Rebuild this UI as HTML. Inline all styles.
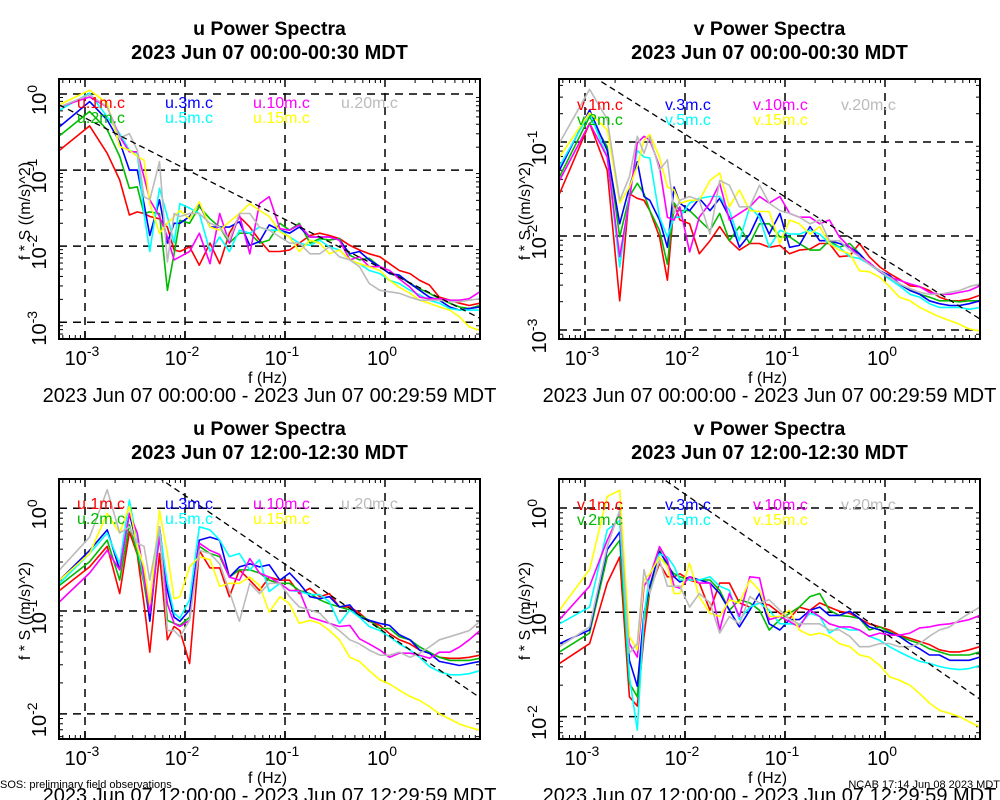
<!DOCTYPE html>
<html><head><meta charset="utf-8">
<style>
html,body{margin:0;padding:0;background:#fff;}
svg{display:block;font-family:"Liberation Sans",Arial,sans-serif;}
</style></head>
<body>
<svg id="chart" width="1000" height="800" viewBox="0 0 1000 800" xmlns="http://www.w3.org/2000/svg">
<rect width="1000" height="800" fill="#fff"/>
<text x="0" y="788" font-size="11">SOS: preliminary field observations</text>
<text x="1000" y="788" font-size="11" text-anchor="end">NCAB 17:14 Jun 08 2023 MDT</text>
</svg>
<script>
// frequency bins: multiples of 1/1800 Hz
const binK = [1,2,3,4,5,6,7,8,10,12,14,16,20,25,32,40,50,63,80,100,125,160,200,250,320,400,500,630,800,1000,1250,1600,2000,2500,3200,4000,5000,6300,8000,10000,12500,16000];
const seriesColors = ['#ff0000','#00bb00','#0000ff','#00ffff','#ff00ff','#ffff00','#bbbbbb'];
const heightsLabel = ['1m','2m','3m','5m','10m','15m','20m'];

// log10(f*S) per series, panel u 00:00
const uNight = [
[-0.74,-0.42,-0.78,-1.13,-1.59,-1.55,-1.57,-1.61,-1.64,-1.75,-2.05,-2.07,-2.01,-2.25,-1.96,-2.23,-1.83,-1.61,-1.75,-1.92,-2.07,-2.07,-2.05,-1.96,-1.86,-1.83,-1.86,-1.90,-1.99,-2.05,-2.10,-2.14,-2.23,-2.32,-2.36,-2.45,-2.51,-2.67,-2.71,-2.75,-2.78,-2.75],
[-0.55,-0.23,-0.47,-0.82,-1.24,-1.22,-1.57,-1.55,-1.57,-2.58,-2.10,-1.66,-1.70,-1.48,-1.64,-1.75,-1.96,-1.83,-1.83,-1.96,-1.92,-1.70,-1.79,-1.70,-1.96,-1.90,-1.92,-1.90,-2.12,-2.18,-2.16,-2.27,-2.36,-2.40,-2.49,-2.56,-2.62,-2.69,-2.75,-2.80,-2.82,-2.78],
[-0.43,-0.10,-0.34,-0.63,-1.00,-1.00,-1.44,-1.86,-1.39,-1.96,-1.70,-1.70,-1.61,-1.44,-1.75,-1.75,-1.75,-1.68,-1.99,-1.94,-1.72,-1.79,-1.83,-1.75,-1.88,-1.88,-1.88,-1.92,-2.10,-2.07,-2.18,-2.27,-2.36,-2.38,-2.49,-2.58,-2.67,-2.71,-2.80,-2.84,-2.82,-2.80],
[-0.21,0.01,-0.30,-0.52,-0.74,-0.78,-1.57,-2.07,-1.24,-1.61,-1.96,-1.44,-1.50,-1.57,-2.07,-1.88,-2.07,-1.79,-1.83,-1.75,-1.79,-1.79,-1.88,-1.96,-1.99,-1.92,-2.01,-2.05,-2.18,-2.23,-2.32,-2.36,-2.45,-2.49,-2.58,-2.64,-2.71,-2.75,-2.82,-2.84,-2.84,-2.84],
[-0.17,-0.04,-0.17,-0.56,-0.76,-0.76,-1.09,-1.39,-1.61,-1.88,-2.18,-2.14,-2.07,-1.83,-2.23,-1.57,-1.96,-1.59,-2.10,-1.44,-1.35,-1.77,-1.79,-1.72,-1.88,-1.88,-1.88,-1.92,-2.18,-2.14,-2.27,-2.27,-2.32,-2.43,-2.54,-2.67,-2.69,-2.69,-2.71,-2.71,-2.69,-2.60],
[-0.14,0.05,-0.12,-0.69,-0.74,-0.82,-0.87,-1.44,-1.83,-1.70,-1.61,-1.53,-1.64,-1.42,-1.75,-1.79,-1.68,-1.57,-1.44,-1.53,-1.61,-1.81,-1.88,-2.07,-1.92,-1.96,-2.10,-2.05,-2.18,-2.23,-2.27,-2.32,-2.45,-2.54,-2.62,-2.71,-2.75,-2.80,-2.84,-2.93,-3.06,-3.11],
[-0.17,-0.01,-0.17,-0.58,-0.52,-0.74,-1.35,-1.39,-0.89,-2.21,-1.57,-1.61,-1.57,-1.57,-1.70,-1.75,-1.92,-1.57,-1.57,-1.75,-1.79,-1.88,-1.96,-1.96,-2.10,-2.10,-2.01,-2.14,-2.18,-2.27,-2.49,-2.58,-2.60,-2.62,-2.67,-2.71,-2.71,-2.71,-2.73,-2.73,-2.71,-2.69]];

const vNight = [
[-1.55,-0.80,-1.30,-2.69,-1.55,-1.60,-1.62,-1.73,-2.01,-2.47,-1.65,-1.83,-1.87,-2.19,-2.05,-1.90,-2.05,-2.15,-2.08,-2.08,-2.12,-2.10,-2.19,-2.15,-2.14,-2.08,-2.08,-2.22,-2.21,-2.08,-2.22,-2.33,-2.40,-2.46,-2.53,-2.54,-2.58,-2.65,-2.69,-2.69,-2.67,-2.63],
[-1.37,-0.73,-1.05,-2.01,-1.58,-1.44,-1.55,-1.73,-1.94,-2.30,-1.65,-1.73,-1.73,-1.83,-1.94,-1.76,-2.05,-1.90,-2.08,-1.87,-1.87,-2.01,-2.01,-2.08,-2.15,-2.15,-2.05,-2.12,-2.08,-2.19,-2.30,-2.37,-2.44,-2.51,-2.58,-2.62,-2.65,-2.69,-2.69,-2.70,-2.69,-2.69],
[-1.30,-0.66,-1.09,-1.87,-1.48,-1.21,-1.58,-1.62,-1.83,-2.12,-1.48,-1.65,-1.73,-1.60,-1.73,-1.60,-1.80,-2.12,-1.98,-1.76,-1.98,-1.76,-2.12,-2.10,-1.90,-2.05,-2.05,-2.08,-2.12,-2.19,-2.30,-2.37,-2.42,-2.51,-2.58,-2.62,-2.69,-2.72,-2.74,-2.74,-2.72,-2.69],
[-1.26,-0.69,-1.16,-2.33,-1.58,-1.09,-1.16,-1.17,-1.80,-2.01,-1.80,-1.80,-1.65,-1.60,-1.58,-1.58,-1.73,-2.05,-1.69,-1.80,-2.12,-1.94,-1.98,-1.98,-1.94,-1.98,-2.08,-2.12,-2.22,-2.24,-2.30,-2.38,-2.46,-2.53,-2.62,-2.65,-2.72,-2.76,-2.76,-2.76,-2.78,-2.76],
[-1.41,-0.80,-1.16,-2.22,-1.62,-1.01,-0.94,-0.98,-1.26,-1.80,-1.83,-1.69,-2.17,-1.80,-1.65,-1.44,-1.83,-1.76,-1.69,-1.58,-1.65,-1.58,-1.76,-1.80,-1.80,-1.87,-1.83,-2.01,-2.12,-2.22,-2.28,-2.38,-2.44,-2.47,-2.51,-2.54,-2.60,-2.62,-2.62,-2.60,-2.58,-2.53],
[-1.16,-0.69,-0.87,-1.65,-1.48,-1.26,-0.98,-0.92,-1.16,-1.48,-1.51,-1.65,-1.62,-1.62,-1.41,-1.33,-1.69,-1.51,-1.73,-1.74,-1.74,-2.08,-1.83,-1.87,-1.98,-1.90,-2.08,-2.15,-2.19,-2.37,-2.38,-2.44,-2.54,-2.65,-2.69,-2.76,-2.81,-2.86,-2.90,-2.94,-2.99,-3.01],
[-1.01,-0.44,-0.76,-1.62,-1.37,-0.94,-1.12,-0.94,-1.30,-1.19,-1.76,-1.62,-1.58,-1.62,-1.98,-1.41,-1.46,-1.69,-1.69,-1.46,-1.65,-1.73,-1.76,-1.80,-1.87,-1.83,-2.05,-2.05,-2.15,-2.22,-2.30,-2.37,-2.44,-2.51,-2.56,-2.60,-2.62,-2.62,-2.60,-2.58,-2.54,-2.51]];

const uDay = [
[-0.80,-0.57,-0.37,-0.83,-0.23,-0.45,-0.93,-1.40,-0.44,-1.28,-1.15,-1.19,-1.51,-0.41,-0.58,-0.58,-0.86,-0.60,-0.70,-0.80,-0.67,-0.70,-0.70,-0.83,-0.78,-0.86,-0.83,-0.96,-0.96,-1.02,-1.10,-1.14,-1.22,-1.28,-1.32,-1.38,-1.41,-1.45,-1.46,-1.46,-1.45,-1.43],
[-0.75,-0.52,-0.31,-0.70,-0.16,-0.44,-0.73,-1.09,-0.24,-1.09,-1.12,-1.14,-1.06,-0.37,-0.44,-0.47,-0.67,-0.60,-0.60,-0.63,-0.70,-0.73,-0.73,-0.80,-0.83,-0.89,-0.93,-0.96,-0.99,-1.04,-1.09,-1.17,-1.17,-1.25,-1.28,-1.35,-1.40,-1.45,-1.48,-1.48,-1.48,-1.46],
[-0.70,-0.41,-0.21,-0.60,-0.05,-0.37,-0.60,-1.10,-0.18,-0.80,-1.06,-1.10,-0.99,-0.31,-0.28,-0.31,-0.67,-0.57,-0.54,-0.57,-0.55,-0.70,-0.63,-0.73,-0.86,-0.88,-0.86,-0.96,-0.94,-1.06,-1.09,-1.12,-1.14,-1.23,-1.28,-1.38,-1.41,-1.49,-1.51,-1.53,-1.51,-1.49],
[-0.73,-0.44,-0.24,-0.54,0.08,-0.34,-0.70,-0.93,-0.21,-0.73,-1.02,-1.07,-0.89,-0.18,-0.21,-0.31,-0.47,-0.44,-0.60,-0.50,-0.81,-0.73,-0.80,-0.81,-0.84,-0.84,-0.91,-1.12,-0.99,-1.06,-1.15,-1.19,-1.25,-1.32,-1.38,-1.45,-1.54,-1.59,-1.62,-1.62,-1.61,-1.58],
[-0.91,-0.63,-0.41,-0.60,-0.05,-0.24,-0.67,-1.02,-0.28,-0.93,-1.12,-1.15,-1.09,-0.34,-0.41,-0.45,-0.67,-0.70,-0.49,-0.63,-0.67,-0.73,-0.80,-0.80,-1.06,-1.09,-1.12,-1.15,-1.14,-1.27,-1.32,-1.38,-1.45,-1.41,-1.41,-1.43,-1.46,-1.40,-1.40,-1.35,-1.28,-1.19],
[-0.70,-0.44,-0.05,-0.24,0.02,-0.37,-0.57,-0.93,-0.02,-0.44,-0.88,-0.86,-0.57,-0.47,-0.50,-0.76,-0.73,-0.73,-0.67,-0.75,-1.01,-0.86,-0.93,-1.12,-1.09,-1.12,-1.19,-1.28,-1.45,-1.49,-1.58,-1.67,-1.71,-1.77,-1.83,-1.87,-1.93,-2.00,-2.05,-2.10,-2.13,-2.16],
[-0.60,-0.28,0.18,-0.24,-0.18,-0.34,-0.37,-0.70,-0.18,-1.19,-1.19,-1.25,-1.09,-0.41,-0.44,-0.54,-0.81,-1.10,-0.73,-0.83,-0.73,-0.73,-0.86,-0.96,-0.99,-1.02,-1.12,-1.19,-1.28,-1.32,-1.38,-1.43,-1.43,-1.40,-1.45,-1.41,-1.35,-1.28,-1.25,-1.22,-1.19,-1.10]];

const vDay = [
[-1.49,-1.30,-0.72,-0.47,-1.81,-1.90,-1.23,-0.79,-0.53,-0.66,-0.66,-0.63,-0.69,-0.72,-0.98,-0.72,-0.72,-0.91,-0.95,-0.91,-0.93,-1.01,-1.06,-0.95,-0.98,-0.91,-0.95,-0.99,-1.01,-1.06,-1.11,-1.14,-1.17,-1.22,-1.25,-1.28,-1.31,-1.36,-1.38,-1.38,-1.36,-1.33],
[-1.38,-1.20,-0.47,-0.31,-1.68,-1.81,-1.07,-0.79,-0.40,-0.56,-0.63,-0.66,-0.69,-0.69,-0.69,-0.79,-0.98,-0.88,-0.91,-0.98,-1.17,-1.07,-1.01,-0.95,-0.85,-0.82,-0.98,-1.03,-1.04,-1.06,-1.17,-1.14,-1.19,-1.23,-1.27,-1.30,-1.35,-1.38,-1.41,-1.41,-1.41,-1.38],
[-1.30,-1.17,-0.40,-0.23,-1.46,-1.71,-1.01,-0.75,-0.42,-0.53,-0.66,-0.71,-0.66,-0.69,-0.72,-0.82,-0.98,-1.14,-0.98,-0.82,-1.11,-1.17,-1.07,-1.07,-0.98,-0.95,-1.03,-1.03,-0.99,-1.06,-1.14,-1.17,-1.20,-1.23,-1.30,-1.35,-1.41,-1.41,-1.46,-1.46,-1.46,-1.43],
[-1.11,-0.95,-0.21,-0.12,-1.62,-2.13,-1.04,-0.63,-0.44,-0.47,-0.56,-0.69,-0.69,-0.69,-0.66,-0.75,-0.79,-1.07,-0.95,-0.91,-0.98,-1.11,-1.11,-1.12,-1.01,-1.04,-1.20,-1.14,-1.17,-1.17,-1.23,-1.27,-1.33,-1.38,-1.43,-1.47,-1.49,-1.52,-1.54,-1.55,-1.54,-1.51],
[-1.07,-0.75,-0.31,-0.05,-1.30,-1.43,-0.75,-0.66,-0.37,-0.50,-0.75,-0.77,-0.66,-0.72,-0.72,-1.17,-0.82,-1.04,-0.66,-0.67,-1.07,-1.04,-1.09,-1.14,-0.98,-1.04,-1.11,-1.14,-1.14,-1.17,-1.23,-1.20,-1.22,-1.22,-1.20,-1.15,-1.14,-1.12,-1.11,-1.09,-1.07,-1.03],
[-0.98,-0.59,0.11,0.17,-1.23,-1.36,-0.69,-0.63,-0.47,-0.56,-0.82,-0.82,-0.53,-0.85,-1.01,-1.04,-0.88,-0.91,-0.69,-0.79,-1.04,-1.04,-0.98,-1.17,-1.22,-1.20,-1.23,-1.30,-1.33,-1.41,-1.43,-1.51,-1.62,-1.65,-1.70,-1.78,-1.87,-1.94,-1.97,-2.00,-2.05,-2.10],
[-1.33,-1.14,-0.37,-0.02,-1.39,-1.30,-0.59,-0.82,-0.50,-0.75,-0.75,-0.75,-0.95,-0.82,-0.91,-1.20,-1.04,-1.11,-0.85,-0.91,-0.88,-0.98,-1.07,-1.11,-1.11,-1.11,-1.17,-1.17,-1.23,-1.33,-1.33,-1.30,-1.30,-1.33,-1.33,-1.30,-1.23,-1.17,-1.14,-1.07,-1.01,-0.95]];

// y-axis decade tick exponents per panel
const yTicksTL = [0,-1,-2,-3];
const yTicksTR = [-1,-2,-3];
const yTicksB = [0,-1,-2];
const xTicks = [-3,-2,-1,0];
// reference -2/3 slope line intercepts (log10 at f=1 Hz)
const refIntercept = [-2.315,-2.25,-1.21,-1.2];

const NS='http://www.w3.org/2000/svg';
const svg=document.getElementById('chart');
function mk(tag,attrs,parent){const e=document.createElementNS(NS,tag);for(const k in attrs)e.setAttribute(k,attrs[k]);(parent||svg).appendChild(e);return e;}

const panels=[
 {id:'u-night',comp:'u',data:uNight,x0:59,x1:480,y0:79,y1:339,lt:0.197,lb:-3.22,yt:yTicksTL,title2:'2023 Jun 07 00:00-00:30 MDT',range:'2023 Jun 07 00:00:00 - 2023 Jun 07 00:29:59 MDT',ref:refIntercept[0],leg:[108,123]},
 {id:'v-night',comp:'v',data:vNight,x0:559,x1:980,y0:79,y1:339,lt:-0.33,lb:-3.096,yt:yTicksTR,title2:'2023 Jun 07 00:00-00:30 MDT',range:'2023 Jun 07 00:00:00 - 2023 Jun 07 00:29:59 MDT',ref:refIntercept[1],leg:[110,125]},
 {id:'u-day',comp:'u',data:uDay,x0:59,x1:480,y0:479,y1:739,lt:0.285,lb:-2.245,yt:yTicksB,title2:'2023 Jun 07 12:00-12:30 MDT',range:'2023 Jun 07 12:00:00 - 2023 Jun 07 12:29:59 MDT',ref:refIntercept[2],leg:[509,524]},
 {id:'v-day',comp:'v',data:vDay,x0:559,x1:980,y0:479,y1:739,lt:0.278,lb:-2.215,yt:yTicksB,title2:'2023 Jun 07 12:00-12:30 MDT',range:'2023 Jun 07 12:00:00 - 2023 Jun 07 12:29:59 MDT',ref:refIntercept[3],leg:[510,525]}
];
const XL=-3.26, XR=0.95;

panels.forEach((p,pi)=>{
 const g=mk('g',{});
 
 
 const sx=lf=>p.x0+(lf-XL)/(XR-XL)*(p.x1-p.x0);
 const sy=ly=>p.y0+(p.lt-ly)/(p.lt-p.lb)*(p.y1-p.y0);
 const cx=(p.x0+p.x1)/2;
 const t1=mk('text',{x:cx,y:p.y0-44,'font-size':19.5,'font-weight':'bold','text-anchor':'middle'},g);t1.textContent=p.comp+' Power Spectra';
 
 const t2=mk('text',{x:cx,y:p.y0-20,'font-size':20,'font-weight':'bold','text-anchor':'middle'},g);t2.textContent=p.title2;
 
 const clipId='clip'+pi;
 const cp=mk('clipPath',{id:clipId},g);mk('rect',{x:p.x0,y:p.y0,width:p.x1-p.x0,height:p.y1-p.y0},cp);
 xTicks.forEach(e=>{const l=mk('line',{x1:sx(e),x2:sx(e),y1:p.y0,y2:p.y1,stroke:'#000','stroke-width':1.5,'stroke-dasharray':'8,6'},g);
  
  const tx=mk('text',{x:sx(e)-3,y:p.y1+26,'font-size':20,'text-anchor':'middle'},g);
  
  tx.appendChild(document.createTextNode('10'));const s=mk('tspan',{dy:-9,'font-size':14},tx);s.textContent=String(e);
 });
 p.yt.forEach(e=>{const l=mk('line',{x1:p.x0,x2:p.x1,y1:sy(e),y2:sy(e),stroke:'#000','stroke-width':1.5,'stroke-dasharray':'8,6'},g);
  
  const X=p.x0-13,Y=sy(e)+6;
  const ty=mk('text',{x:X,y:Y,'font-size':20,'text-anchor':'middle',transform:`rotate(-90 ${X} ${Y})`},g);
  
  ty.appendChild(document.createTextNode('10'));const s=mk('tspan',{dy:-9,'font-size':14},ty);s.textContent=String(e);
 });
 for(let d=-4;d<=1;d++)for(let m=2;m<=9;m++){const lf=d+Math.log10(m);if(lf>XL&&lf<XR){
   mk('line',{x1:sx(lf),x2:sx(lf),y1:p.y1,y2:p.y1-4,stroke:'#000','stroke-width':1},g);
   mk('line',{x1:sx(lf),x2:sx(lf),y1:p.y0,y2:p.y0+4,stroke:'#000','stroke-width':1},g);}}
 for(let d=-4;d<=1;d++)for(let m=2;m<=9;m++){const ly=d+Math.log10(m);if(ly<p.lt&&ly>p.lb){
   mk('line',{x1:p.x0,x2:p.x0+4,y1:sy(ly),y2:sy(ly),stroke:'#000','stroke-width':1},g);
   mk('line',{x1:p.x1,x2:p.x1-4,y1:sy(ly),y2:sy(ly),stroke:'#000','stroke-width':1},g);}}
 for(let e=-4;e<=1;e++){if(e>XL&&e<XR){mk('line',{x1:sx(e),x2:sx(e),y1:p.y1,y2:p.y1-8,stroke:'#000','stroke-width':1.5},g);}}
 const sg=mk('g',{'clip-path':`url(#${clipId})`},g);
 p.data.forEach((ser,si)=>{
  const pts=ser.map((v,i)=>sx(Math.log10(binK[i]/1800)).toFixed(1)+','+sy(v).toFixed(1)).join(' ');
  const pl=mk('polyline',{points:pts,fill:'none',stroke:seriesColors[si],'stroke-width':1.6,'stroke-linejoin':'round'},sg);
  
  
 });
 const rl=mk('line',{x1:sx(XL),y1:sy(p.ref-2/3*XL),x2:sx(XR),y2:sy(p.ref-2/3*XR),stroke:'#000','stroke-width':1.3,'stroke-dasharray':'6,4'},sg);
 
 
 seriesColors.forEach((c,si)=>{
  const cidx=si===6?3:Math.floor(si/2);
  const rr=si===6?0:si%2;
  const lt=mk('text',{x:p.x0+18+cidx*88,y:p.leg[rr],'font-size':16,fill:c},g);
  lt.textContent=p.comp+'.'+heightsLabel[si]+'.c';
  
  
 });
 const fr=mk('rect',{x:p.x0,y:p.y0,width:p.x1-p.x0,height:p.y1-p.y0,fill:'none',stroke:'#000','stroke-width':2},g);
 
 const xa=mk('text',{x:(p.x0+p.x1)/2-2,y:p.y1+44,'font-size':16,'text-anchor':'middle'},g);xa.textContent='f (Hz)';
 
 const YX=p.x0-29,YY=(p.y0+p.y1)/2+2;
 const ya=mk('text',{x:YX,y:YY,'font-size':16,'text-anchor':'middle',transform:`rotate(-90 ${YX} ${YY})`},g);ya.textContent='f * S ((m/s)^2)';
 
 const rg=mk('text',{x:(p.x0+p.x1)/2,y:p.y1+63,'font-size':20,'text-anchor':'middle'},g);rg.textContent=p.range;
 
});
</script>
</body></html>
